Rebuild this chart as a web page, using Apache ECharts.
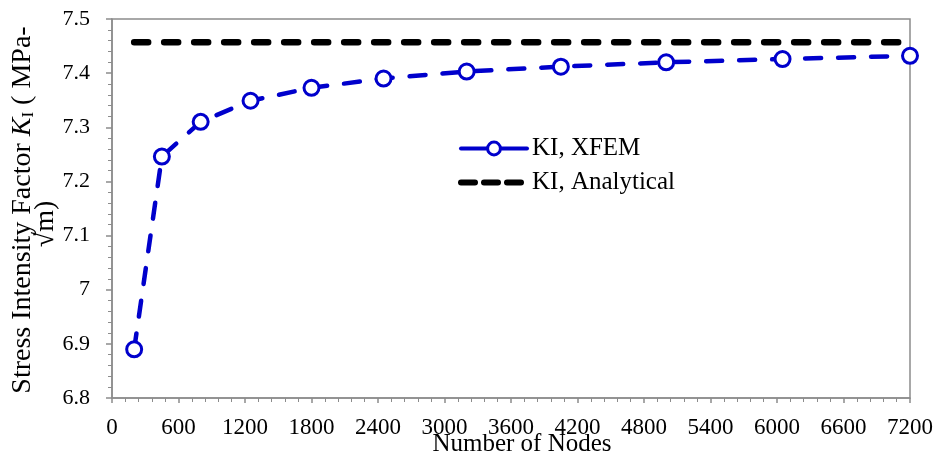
<!DOCTYPE html>
<html>
<head>
<meta charset="utf-8">
<script src="https://cdn.jsdelivr.net/npm/echarts@6/dist/echarts.min.js"></script>
<style>html,body{margin:0;padding:0;background:#fff}#c{width:936px;height:456px}</style>
</head>
<body>
<div id="c"></div>
<script>
const nodes = [200, 450, 800, 1250, 1800, 2450, 3200, 4050, 5000, 6050, 7200];
const kiXfem = [6.890, 7.246, 7.310, 7.349, 7.373, 7.390, 7.403, 7.412, 7.420, 7.426, 7.432];
const kiAnalytical = [7.457, 7.457, 7.457, 7.457, 7.457, 7.457, 7.457, 7.457, 7.457, 7.457, 7.457];
const seriesNames = ['KI, XFEM', 'KI, Analytical'];
const xTitle = 'Number of Nodes';

const FONT = '"Liberation Serif", "Times New Roman", serif';
const AXIS = '#8c8c8c';
const BLUE = '#0000CC';
const chart = echarts.init(document.getElementById('c'), null, {renderer: 'canvas'});
chart.setOption({
  animation: false,
  backgroundColor: '#fff',
  grid: {left: 112, right: 26, top: 19, bottom: 58, show: true, borderColor: AXIS, borderWidth: 1.5,
    backgroundColor: 'transparent', containLabel: false, outerBoundsMode: 'none'},
  legend: {
    orient: 'vertical', left: 453, top: 131, itemWidth: 66, itemHeight: 16, itemGap: 9,
    textStyle: {fontFamily: FONT, fontSize: 25, color: '#000', padding: [0, 0, 0, 0]},
    data: [
      {name: seriesNames[0],
       itemStyle: {color: '#fff', borderColor: BLUE, borderWidth: 3},
       lineStyle: {color: BLUE, width: 4, type: 'solid', cap: 'round'}},
      {name: seriesNames[1],
       itemStyle: {color: 'rgba(0,0,0,0)', borderWidth: 0, opacity: 0},
       lineStyle: {color: '#000', width: 6, type: [14, 9], cap: 'round'}}
    ]
  },
  xAxis: {
    type: 'value', min: 0, max: 7200, interval: 600,
    name: xTitle, nameLocation: 'middle', nameGap: 34, nameMoveOverlap: false,
    nameTextStyle: {fontFamily: FONT, fontSize: 25, color: '#000', padding: [0, 0, 0, 22]},
    axisLine: {show: true, lineStyle: {color: AXIS, width: 1.5}},
    axisTick: {show: true, length: 5, lineStyle: {color: AXIS, width: 1.5}},
    minorTick: {show: true, splitNumber: 5, length: 4, lineStyle: {color: AXIS, width: 1}},
    splitLine: {show: false},
    axisLabel: {fontFamily: FONT, fontSize: 23, color: '#000', margin: 18,
      formatter: v => String(Math.round(v))}
  },
  yAxis: {
    type: 'value', min: 6.8, max: 7.5, interval: 0.1,
    axisLine: {show: true, lineStyle: {color: AXIS, width: 1.5}},
    axisTick: {show: true, length: 6, lineStyle: {color: AXIS, width: 1.5}},
    minorTick: {show: true, splitNumber: 5, length: 4, lineStyle: {color: AXIS, width: 1}},
    splitLine: {show: false},
    axisLabel: {fontFamily: FONT, fontSize: 22, color: '#000', margin: 22,
      formatter: v => (Math.round(v * 10) / 10).toString()}
  },
  graphic: [{
    type: 'text', x: 23, y: 210, rotation: Math.PI / 2,
    style: {
      text: '{a|Stress Intensity Factor }{k|K}{s|I}{a| ( MPa-}',
      align: 'center', verticalAlign: 'middle',
      rich: {
        a: {fontFamily: FONT, fontSize: 28, color: '#000', lineHeight: 28},
        k: {fontFamily: FONT, fontSize: 28, fontStyle: 'italic', color: '#000', lineHeight: 28},
        s: {fontFamily: FONT, fontSize: 17, color: '#000', lineHeight: 16, verticalAlign: 'bottom'}
      }
    }
  }, {
    type: 'text', x: 46, y: 224, rotation: Math.PI / 2,
    style: {text: '√m)', align: 'center', verticalAlign: 'middle',
      fontFamily: FONT, fontSize: 28, fill: '#000'}
  }],
  series: [
    {
      name: seriesNames[0], type: 'line',
      data: nodes.map((n, i) => [n, kiXfem[i]]),
      symbol: 'circle', symbolSize: 15, showSymbol: true,
      itemStyle: {color: '#fff', borderColor: BLUE, borderWidth: 3},
      lineStyle: {color: BLUE, width: 4.5, type: [16, 17], cap: 'round'},
      z: 3
    },
    {
      name: seriesNames[1], type: 'line',
      data: nodes.map((n, i) => [n, kiAnalytical[i]]),
      symbol: 'none',
      itemStyle: {color: '#000'},
      lineStyle: {color: '#000', width: 6.5, type: [14, 16], cap: 'round'},
      z: 2
    }
  ]
});
</script>
</body>
</html>
